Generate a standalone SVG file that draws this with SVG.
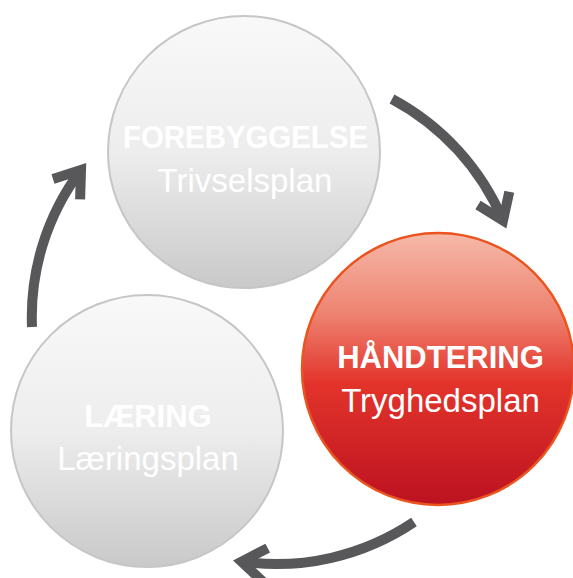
<svg xmlns="http://www.w3.org/2000/svg" width="573" height="578" viewBox="0 0 573 578">
<defs>
<linearGradient id="gGray" x1="0" y1="0" x2="0" y2="1">
<stop offset="0" stop-color="#f9f9f9"/>
<stop offset="0.5" stop-color="#ededed"/>
<stop offset="1" stop-color="#c9c9c9"/>
</linearGradient>
<linearGradient id="gRed" x1="0" y1="0" x2="0" y2="1">
<stop offset="0" stop-color="#f6b9a9"/>
<stop offset="0.3" stop-color="#ee8270"/>
<stop offset="0.55" stop-color="#e3342b"/>
<stop offset="1" stop-color="#bc1221"/>
</linearGradient>
<marker id="chev" markerUnits="userSpaceOnUse" markerWidth="60" markerHeight="60" refX="0" refY="0" viewBox="-30 -30 60 60" orient="auto" overflow="visible">
<path d="M-24,-17 L0,0 L-24,17" fill="none" stroke="#58585a" stroke-width="10" stroke-linejoin="miter" stroke-miterlimit="4"/>
</marker>
</defs>
<style>
.gray{fill:url(#gGray);stroke:#c6c6c6;stroke-width:2}
.red{fill:url(#gRed);stroke:#e9541f;stroke-width:2.5}
.t1{font-family:"Liberation Sans",Arial,sans-serif;font-weight:bold;font-size:31px;fill:#ffffff;text-anchor:middle}
.t2{font-family:"Liberation Sans",Arial,sans-serif;font-size:33px;fill:#ffffff;text-anchor:middle}
.arr{fill:none;stroke:#58585a;stroke-width:10;stroke-linecap:butt;marker-end:url(#chev)}
</style>
<g id="connectors">
<path class="arr" d="M392,99 A247,247 0 0 1 503,220.5"/>
<path class="arr" d="M414,522 A247,247 0 0 1 241.6,561.6"/>
<path class="arr" d="M32,327 A244,244 0 0 1 81,170"/>
</g>
<g id="forebyggelse">
<circle class="gray" cx="244" cy="152" r="136"/>
<text class="t1" x="245.5" y="148" textLength="245" lengthAdjust="spacingAndGlyphs">FOREBYGGELSE</text>
<text class="t2" x="245" y="192">Trivselsplan</text>
</g>
<g id="haandtering">
<circle class="red" cx="438" cy="369" r="136"/>
<text class="t1" x="440.5" y="368">HÅNDTERING</text>
<text class="t2" x="440.5" y="412">Tryghedsplan</text>
</g>
<g id="laering">
<circle class="gray" cx="147" cy="431" r="136"/>
<text class="t1" x="148" y="427">LÆRING</text>
<text class="t2" x="148" y="470">Læringsplan</text>
</g>
</svg>
